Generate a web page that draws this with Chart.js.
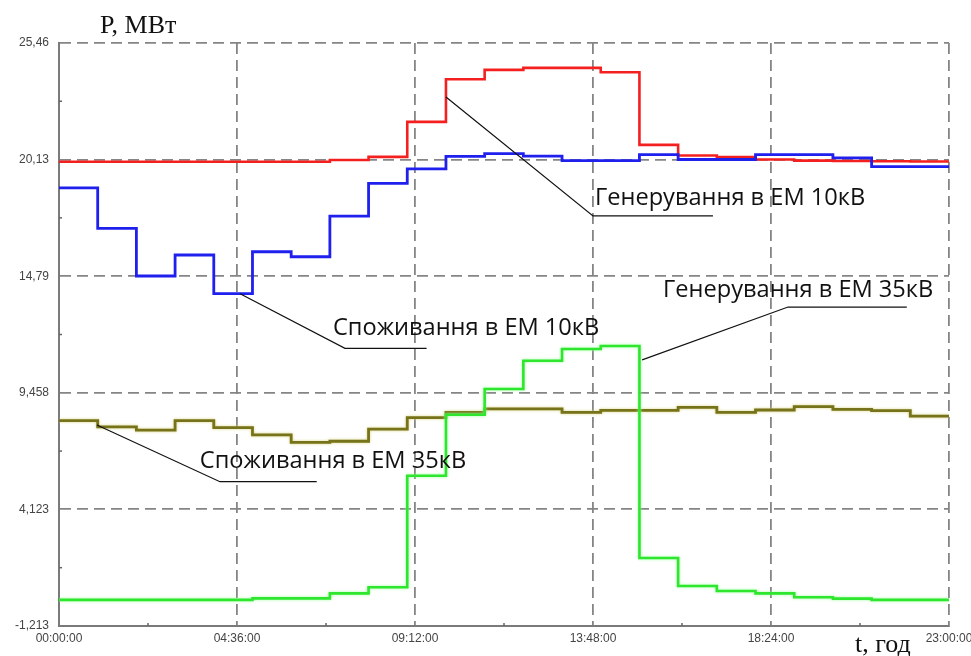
<!DOCTYPE html>
<html><head><meta charset="utf-8">
<script src="https://cdn.jsdelivr.net/npm/chart.js@4.4.1/dist/chart.umd.min.js"></script>
<style>html,body{margin:0;padding:0;background:#fff;overflow:hidden}</style>
</head><body>
<canvas id="c" width="971" height="656"></canvas>
<script>
// ---- data (hourly steps, value holds for [h, h+1]) ----
const hours = [0,1,2,3,4,5,6,7,8,9,10,11,12,13,14,15,16,17,18,19,20,21,22];
const endHour = 23;
const genEM10  = [20.03,20.03,20.03,20.03,20.03,20.03,20.03,20.11,20.25,21.85,23.80,24.23,24.32,24.32,24.12,20.80,20.31,20.24,20.13,20.08,20.06,20.05,20.04];
const consEM10 = [18.83,16.98,14.80,15.76,13.99,15.91,15.68,17.54,19.04,19.70,20.27,20.40,20.28,20.08,20.08,20.35,20.13,20.13,20.35,20.35,20.20,19.80,19.80];
const genEM35  = [-0.02,-0.02,-0.02,-0.02,-0.02,0.05,0.05,0.28,0.56,5.66,8.45,9.63,10.92,11.46,11.60,1.90,0.62,0.39,0.28,0.10,0.04,-0.02,-0.02];
const consEM35 = [8.18,7.90,7.75,8.18,7.86,7.53,7.19,7.24,7.79,8.32,8.56,8.72,8.72,8.56,8.65,8.65,8.79,8.56,8.67,8.82,8.70,8.64,8.39];
const seriesNames = ['Генерування в ЕМ 10кВ','Споживання в ЕМ 10кВ','Генерування в ЕМ 35кВ','Споживання в ЕМ 35кВ'];
const yTickValues = [-1.213, 4.123, 9.458, 14.79, 20.13, 25.46];
const yTickLabels = ['-1,213','4,123','9,458','14,79','20,13','25,46'];
const xTickValues = [0, 4.6, 9.2, 13.8, 18.4, 23];
const xTickLabels = ['00:00:00','04:36:00','09:12:00','13:48:00','18:24:00','23:00:00'];
const yAxisTitle = 'P, МВт';
const xAxisTitle = 't, год';

function toPoints(vals){
  const pts = hours.map((h,i)=>({x:h, y:vals[i]}));
  pts.push({x:endHour, y:vals[vals.length-1]});
  return pts;
}

// annotation leaders, in data coordinates
const callouts = [
  {text:seriesNames[0], anchor:[10.0,22.99], elbow:[13.80,17.55], endX:16.90, pos:[13.85,18.05]},
  {text:seriesNames[1], anchor:[4.68,13.99], elbow:[7.39,11.49], endX:9.50, pos:[7.08,12.10]},
  {text:seriesNames[2], anchor:[15.07,10.96], elbow:[18.84,13.38], endX:21.91, pos:[15.61,13.85]},
  {text:seriesNames[3], anchor:[0.98,7.98], elbow:[4.16,5.39], endX:6.66, pos:[3.64,6.00]}
];

const glowPlugin = {
  id:'glow',
  beforeDatasetDraw(chart, args){
    const ds = chart.data.datasets[args.index];
    if (ds.glowColor){
      const ctx = chart.ctx; ctx.save();
      ctx.shadowColor = ds.glowColor; ctx.shadowBlur = 3;
    }
  },
  afterDatasetDraw(chart, args){
    const ds = chart.data.datasets[args.index];
    if (ds.glowColor) chart.ctx.restore();
  }
};

const decorPlugin = {
  id:'decor',
  afterDraw(chart){
    const ctx = chart.ctx, xs = chart.scales.x, ys = chart.scales.y, a = chart.chartArea;
    ctx.save();
    // minor ticks
    ctx.strokeStyle = '#666'; ctx.lineWidth = 1.5;
    for (let i=0;i<xTickValues.length-1;i++){
      const px = xs.getPixelForValue((xTickValues[i]+xTickValues[i+1])/2);
      ctx.beginPath(); ctx.moveTo(px, a.bottom); ctx.lineTo(px, a.bottom-3); ctx.stroke();
    }
    for (let i=0;i<yTickValues.length-1;i++){
      const py = ys.getPixelForValue((yTickValues[i]+yTickValues[i+1])/2);
      ctx.beginPath(); ctx.moveTo(a.left, py); ctx.lineTo(a.left+3, py); ctx.stroke();
    }
    // callouts
    ctx.strokeStyle = '#111'; ctx.lineWidth = 1.2; ctx.fillStyle = '#111';
    ctx.font = '23.6px "Open Sans"'; ctx.textBaseline = 'alphabetic'; ctx.textAlign = 'left';
    callouts.forEach(c=>{
      const ax = xs.getPixelForValue(c.anchor[0]), ay = ys.getPixelForValue(c.anchor[1]);
      const ex = xs.getPixelForValue(c.elbow[0]), ey = ys.getPixelForValue(c.elbow[1]);
      const ux = xs.getPixelForValue(c.endX);
      ctx.beginPath(); ctx.moveTo(ax,ay); ctx.lineTo(ex,ey); ctx.lineTo(ux,ey); ctx.stroke();
      ctx.fillText(c.text, xs.getPixelForValue(c.pos[0]), ys.getPixelForValue(c.pos[1]));
    });
    // axis titles
    ctx.fillStyle = '#111';
    ctx.font = '26px "Liberation Serif"';
    ctx.fillText(yAxisTitle, 100, 33);
    ctx.fillText(xAxisTitle, 855, 652);
    ctx.restore();
  }
};

const gridCommon = {color:'#858585', lineWidth:1.8, drawTicks:false};
const borderCommon = {display:true, color:'#7a7a7a', width:2, dash:[11,6]};
const tickFont = {family:'"Liberation Sans", Arial', size:12};

new Chart(document.getElementById('c'), {
  type:'line',
  data:{
    datasets:[
      {label:seriesNames[2], data:toPoints(genEM35), borderColor:'#2ee62e', borderWidth:2.6, glowColor:'rgba(150,255,150,0.9)', order:1},
      {label:seriesNames[1], data:toPoints(consEM10), borderColor:'#1f1fee', borderWidth:2.8, order:2},
      {label:seriesNames[0], data:toPoints(genEM10), borderColor:'#f42020', borderWidth:2.6, order:3},
      {label:seriesNames[3], data:toPoints(consEM35), borderColor:'#77731a', borderWidth:2.8, glowColor:'rgba(215,210,130,1)', order:4}
    ]
  },
  options:{
    responsive:false, animation:false, devicePixelRatio:1,
    elements:{point:{radius:0, hoverRadius:0}, line:{stepped:true, tension:0, fill:false}},
    layout:{padding:{left:0, right:22, top:43, bottom:0}},
    plugins:{legend:{display:false}, tooltip:{enabled:false}, title:{display:false}},
    scales:{
      x:{
        type:'linear', min:0, max:23,
        grid:gridCommon, border:borderCommon,
        afterBuildTicks(s){ s.ticks = xTickValues.map(v=>({value:v})); },
        afterFit(s){ s.height = 30; s.paddingLeft = 0; s.paddingRight = 0; },
        ticks:{autoSkip:false, maxRotation:0, padding:5, color:'#444', font:tickFont,
               callback:(v,i)=>xTickLabels[i]}
      },
      y:{
        type:'linear', min:-1.213, max:25.46,
        grid:gridCommon, border:borderCommon,
        afterBuildTicks(s){ s.ticks = yTickValues.map(v=>({value:v})); },
        afterFit(s){ s.width = 59; s.paddingTop = 0; s.paddingBottom = 0; },
        ticks:{autoSkip:false, padding:10, color:'#444', font:tickFont,
               callback:(v,i)=>yTickLabels[i]}
      }
    }
  },
  plugins:[glowPlugin, decorPlugin]
});
</script>
</body></html>
